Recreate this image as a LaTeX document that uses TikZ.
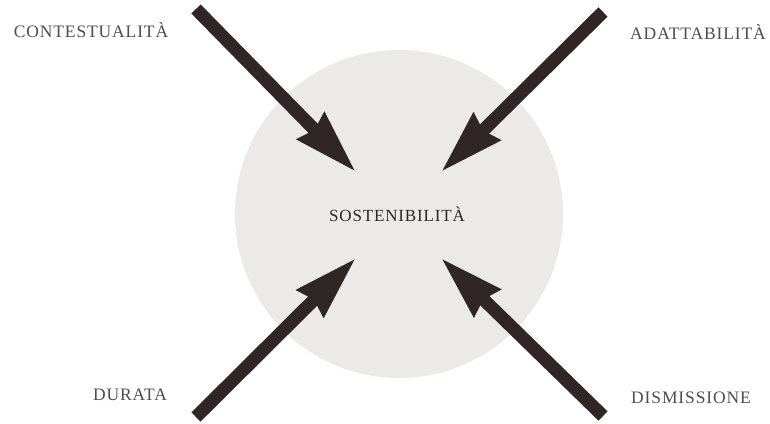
\documentclass[tikz,border=0pt]{standalone}
\usepackage{fontspec}
\setmainfont{Liberation Serif}
\newfontfamily\labfont[LetterSpace=5]{Liberation Serif}
\usetikzlibrary{arrows.meta}
\definecolor{disc}{RGB}{236,234,232}
\definecolor{arrowc}{RGB}{48,38,38}
\definecolor{labc}{RGB}{78,78,78}
\definecolor{midc}{RGB}{40,40,40}
\begin{document}
\begin{tikzpicture}[x=1pt,y=-1pt,
  lab/.style={font=\labfont\fontsize{17.5}{20}\selectfont, text=labc, inner sep=0pt, anchor=base},
  midlab/.style={font=\labfont\fontsize{17}{19}\selectfont, text=midc, inner sep=0pt, anchor=base},
  bigarrow/.style={draw=arrowc, fill=arrowc, line width=13pt, -{Stealth[length=63pt,width=36pt,inset=4pt]}}]
\useasboundingbox[fill=white] (0,0) rectangle (770,423);
\node[circle, fill=disc, minimum size=328pt, inner sep=0pt] (disc) at (399,214) {};
\node[midlab] (sost) at (397,221) {SOSTENIBILITÀ};
\node[lab] (cont) at (91,37) {CONTESTUALITÀ};
\node[lab] (adat) at (698,39) {ADATTABILITÀ};
\node[lab] (dura) at (130,400) {DURATA};
\node[lab] (dism) at (691,403) {DISMISSIONE};
\coordinate (tl0) at (196,9);   \coordinate (tl1) at (356,172);
\coordinate (tr0) at (603,12);  \coordinate (tr1) at (441,172);
\coordinate (bl0) at (196,417); \coordinate (bl1) at (356,258);
\coordinate (br0) at (603,416); \coordinate (br1) at (441,258);
\draw[bigarrow] (tl0) -- (tl1);
\draw[bigarrow] (tr0) -- (tr1);
\draw[bigarrow] (bl0) -- (bl1);
\draw[bigarrow] (br0) -- (br1);
\end{tikzpicture}
\end{document}
